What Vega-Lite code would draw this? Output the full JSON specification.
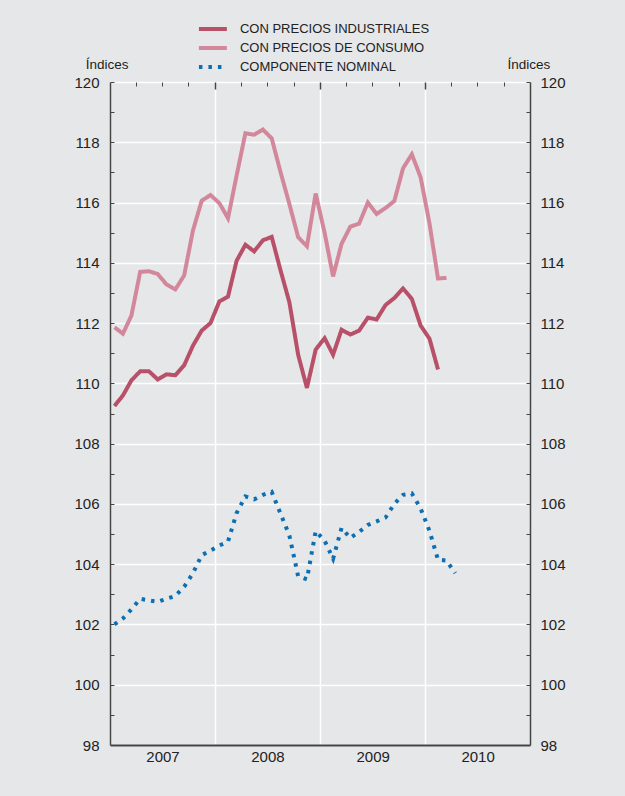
{
  "$schema": "https://vega.github.io/schema/vega-lite/v6.json",
  "width": 420,
  "height": 663,
  "autosize": {"type": "none"},
  "padding": {"left": 110, "top": 82, "right": 95, "bottom": 51},
  "background": "#e6e7e9",
  "config": {
    "view": {"stroke": null},
    "font": "Liberation Sans",
    "axis": {"labelFont": "Liberation Sans", "titleFont": "Liberation Sans", "labelColor": "#222222", "titleColor": "#222222", "domainColor": "#444444", "tickColor": "#444444", "gridColor": "#ffffff", "gridWidth": 1.5}
  },
  "datasets": {
    "d": [
      {"date": "2007-01", "serie": "CON PRECIOS INDUSTRIALES", "value": 109.25},
      {"date": "2007-02", "serie": "CON PRECIOS INDUSTRIALES", "value": 109.6},
      {"date": "2007-03", "serie": "CON PRECIOS INDUSTRIALES", "value": 110.1},
      {"date": "2007-04", "serie": "CON PRECIOS INDUSTRIALES", "value": 110.4},
      {"date": "2007-05", "serie": "CON PRECIOS INDUSTRIALES", "value": 110.4},
      {"date": "2007-06", "serie": "CON PRECIOS INDUSTRIALES", "value": 110.13},
      {"date": "2007-07", "serie": "CON PRECIOS INDUSTRIALES", "value": 110.3},
      {"date": "2007-08", "serie": "CON PRECIOS INDUSTRIALES", "value": 110.27},
      {"date": "2007-09", "serie": "CON PRECIOS INDUSTRIALES", "value": 110.6},
      {"date": "2007-10", "serie": "CON PRECIOS INDUSTRIALES", "value": 111.25},
      {"date": "2007-11", "serie": "CON PRECIOS INDUSTRIALES", "value": 111.75},
      {"date": "2007-12", "serie": "CON PRECIOS INDUSTRIALES", "value": 112.0},
      {"date": "2008-01", "serie": "CON PRECIOS INDUSTRIALES", "value": 112.72},
      {"date": "2008-02", "serie": "CON PRECIOS INDUSTRIALES", "value": 112.88},
      {"date": "2008-03", "serie": "CON PRECIOS INDUSTRIALES", "value": 114.07},
      {"date": "2008-04", "serie": "CON PRECIOS INDUSTRIALES", "value": 114.6},
      {"date": "2008-05", "serie": "CON PRECIOS INDUSTRIALES", "value": 114.38},
      {"date": "2008-06", "serie": "CON PRECIOS INDUSTRIALES", "value": 114.75},
      {"date": "2008-07", "serie": "CON PRECIOS INDUSTRIALES", "value": 114.86},
      {"date": "2008-08", "serie": "CON PRECIOS INDUSTRIALES", "value": 113.74},
      {"date": "2008-09", "serie": "CON PRECIOS INDUSTRIALES", "value": 112.69},
      {"date": "2008-10", "serie": "CON PRECIOS INDUSTRIALES", "value": 110.95},
      {"date": "2008-11", "serie": "CON PRECIOS INDUSTRIALES", "value": 109.85},
      {"date": "2008-12", "serie": "CON PRECIOS INDUSTRIALES", "value": 111.12},
      {"date": "2009-01", "serie": "CON PRECIOS INDUSTRIALES", "value": 111.5},
      {"date": "2009-02", "serie": "CON PRECIOS INDUSTRIALES", "value": 110.95},
      {"date": "2009-03", "serie": "CON PRECIOS INDUSTRIALES", "value": 111.78},
      {"date": "2009-04", "serie": "CON PRECIOS INDUSTRIALES", "value": 111.62},
      {"date": "2009-05", "serie": "CON PRECIOS INDUSTRIALES", "value": 111.75},
      {"date": "2009-06", "serie": "CON PRECIOS INDUSTRIALES", "value": 112.18},
      {"date": "2009-07", "serie": "CON PRECIOS INDUSTRIALES", "value": 112.12},
      {"date": "2009-08", "serie": "CON PRECIOS INDUSTRIALES", "value": 112.6},
      {"date": "2009-09", "serie": "CON PRECIOS INDUSTRIALES", "value": 112.83},
      {"date": "2009-10", "serie": "CON PRECIOS INDUSTRIALES", "value": 113.15},
      {"date": "2009-11", "serie": "CON PRECIOS INDUSTRIALES", "value": 112.8},
      {"date": "2009-12", "serie": "CON PRECIOS INDUSTRIALES", "value": 111.92},
      {"date": "2010-01", "serie": "CON PRECIOS INDUSTRIALES", "value": 111.48},
      {"date": "2010-02", "serie": "CON PRECIOS INDUSTRIALES", "value": 110.46},
      {"date": "2007-01", "serie": "CON PRECIOS DE CONSUMO", "value": 111.86},
      {"date": "2007-02", "serie": "CON PRECIOS DE CONSUMO", "value": 111.65},
      {"date": "2007-03", "serie": "CON PRECIOS DE CONSUMO", "value": 112.25},
      {"date": "2007-04", "serie": "CON PRECIOS DE CONSUMO", "value": 113.7},
      {"date": "2007-05", "serie": "CON PRECIOS DE CONSUMO", "value": 113.72},
      {"date": "2007-06", "serie": "CON PRECIOS DE CONSUMO", "value": 113.63},
      {"date": "2007-07", "serie": "CON PRECIOS DE CONSUMO", "value": 113.28},
      {"date": "2007-08", "serie": "CON PRECIOS DE CONSUMO", "value": 113.12},
      {"date": "2007-09", "serie": "CON PRECIOS DE CONSUMO", "value": 113.58},
      {"date": "2007-10", "serie": "CON PRECIOS DE CONSUMO", "value": 115.07},
      {"date": "2007-11", "serie": "CON PRECIOS DE CONSUMO", "value": 116.06},
      {"date": "2007-12", "serie": "CON PRECIOS DE CONSUMO", "value": 116.25},
      {"date": "2008-01", "serie": "CON PRECIOS DE CONSUMO", "value": 115.98},
      {"date": "2008-02", "serie": "CON PRECIOS DE CONSUMO", "value": 115.48},
      {"date": "2008-03", "serie": "CON PRECIOS DE CONSUMO", "value": 116.9},
      {"date": "2008-04", "serie": "CON PRECIOS DE CONSUMO", "value": 118.3},
      {"date": "2008-05", "serie": "CON PRECIOS DE CONSUMO", "value": 118.25},
      {"date": "2008-06", "serie": "CON PRECIOS DE CONSUMO", "value": 118.42},
      {"date": "2008-07", "serie": "CON PRECIOS DE CONSUMO", "value": 118.13},
      {"date": "2008-08", "serie": "CON PRECIOS DE CONSUMO", "value": 117.0},
      {"date": "2008-09", "serie": "CON PRECIOS DE CONSUMO", "value": 115.95},
      {"date": "2008-10", "serie": "CON PRECIOS DE CONSUMO", "value": 114.85},
      {"date": "2008-11", "serie": "CON PRECIOS DE CONSUMO", "value": 114.55},
      {"date": "2008-12", "serie": "CON PRECIOS DE CONSUMO", "value": 116.3},
      {"date": "2009-01", "serie": "CON PRECIOS DE CONSUMO", "value": 115.0},
      {"date": "2009-02", "serie": "CON PRECIOS DE CONSUMO", "value": 113.55},
      {"date": "2009-03", "serie": "CON PRECIOS DE CONSUMO", "value": 114.63},
      {"date": "2009-04", "serie": "CON PRECIOS DE CONSUMO", "value": 115.2},
      {"date": "2009-05", "serie": "CON PRECIOS DE CONSUMO", "value": 115.3},
      {"date": "2009-06", "serie": "CON PRECIOS DE CONSUMO", "value": 116.0},
      {"date": "2009-07", "serie": "CON PRECIOS DE CONSUMO", "value": 115.62},
      {"date": "2009-08", "serie": "CON PRECIOS DE CONSUMO", "value": 115.82},
      {"date": "2009-09", "serie": "CON PRECIOS DE CONSUMO", "value": 116.05},
      {"date": "2009-10", "serie": "CON PRECIOS DE CONSUMO", "value": 117.14},
      {"date": "2009-11", "serie": "CON PRECIOS DE CONSUMO", "value": 117.6},
      {"date": "2009-12", "serie": "CON PRECIOS DE CONSUMO", "value": 116.84},
      {"date": "2010-01", "serie": "CON PRECIOS DE CONSUMO", "value": 115.3},
      {"date": "2010-02", "serie": "CON PRECIOS DE CONSUMO", "value": 113.48},
      {"date": "2010-03", "serie": "CON PRECIOS DE CONSUMO", "value": 113.5},
      {"date": "2007-01", "serie": "COMPONENTE NOMINAL", "value": 102.0},
      {"date": "2007-02", "serie": "COMPONENTE NOMINAL", "value": 102.2},
      {"date": "2007-03", "serie": "COMPONENTE NOMINAL", "value": 102.5},
      {"date": "2007-04", "serie": "COMPONENTE NOMINAL", "value": 102.85},
      {"date": "2007-05", "serie": "COMPONENTE NOMINAL", "value": 102.8},
      {"date": "2007-06", "serie": "COMPONENTE NOMINAL", "value": 102.75},
      {"date": "2007-07", "serie": "COMPONENTE NOMINAL", "value": 102.85},
      {"date": "2007-08", "serie": "COMPONENTE NOMINAL", "value": 102.95},
      {"date": "2007-09", "serie": "COMPONENTE NOMINAL", "value": 103.25},
      {"date": "2007-10", "serie": "COMPONENTE NOMINAL", "value": 103.7},
      {"date": "2007-11", "serie": "COMPONENTE NOMINAL", "value": 104.3},
      {"date": "2007-12", "serie": "COMPONENTE NOMINAL", "value": 104.45},
      {"date": "2008-01", "serie": "COMPONENTE NOMINAL", "value": 104.62},
      {"date": "2008-02", "serie": "COMPONENTE NOMINAL", "value": 104.75},
      {"date": "2008-03", "serie": "COMPONENTE NOMINAL", "value": 105.7},
      {"date": "2008-04", "serie": "COMPONENTE NOMINAL", "value": 106.25},
      {"date": "2008-05", "serie": "COMPONENTE NOMINAL", "value": 106.15},
      {"date": "2008-06", "serie": "COMPONENTE NOMINAL", "value": 106.3},
      {"date": "2008-07", "serie": "COMPONENTE NOMINAL", "value": 106.4},
      {"date": "2008-08", "serie": "COMPONENTE NOMINAL", "value": 105.67},
      {"date": "2008-09", "serie": "COMPONENTE NOMINAL", "value": 104.95},
      {"date": "2008-10", "serie": "COMPONENTE NOMINAL", "value": 103.6},
      {"date": "2008-11", "serie": "COMPONENTE NOMINAL", "value": 103.5},
      {"date": "2008-12", "serie": "COMPONENTE NOMINAL", "value": 105.1},
      {"date": "2009-01", "serie": "COMPONENTE NOMINAL", "value": 104.78},
      {"date": "2009-02", "serie": "COMPONENTE NOMINAL", "value": 104.18},
      {"date": "2009-03", "serie": "COMPONENTE NOMINAL", "value": 105.2},
      {"date": "2009-04", "serie": "COMPONENTE NOMINAL", "value": 104.87},
      {"date": "2009-05", "serie": "COMPONENTE NOMINAL", "value": 105.07},
      {"date": "2009-06", "serie": "COMPONENTE NOMINAL", "value": 105.3},
      {"date": "2009-07", "serie": "COMPONENTE NOMINAL", "value": 105.42},
      {"date": "2009-08", "serie": "COMPONENTE NOMINAL", "value": 105.55},
      {"date": "2009-09", "serie": "COMPONENTE NOMINAL", "value": 106.0},
      {"date": "2009-10", "serie": "COMPONENTE NOMINAL", "value": 106.3},
      {"date": "2009-11", "serie": "COMPONENTE NOMINAL", "value": 106.35},
      {"date": "2009-12", "serie": "COMPONENTE NOMINAL", "value": 105.85},
      {"date": "2010-01", "serie": "COMPONENTE NOMINAL", "value": 105.1},
      {"date": "2010-02", "serie": "COMPONENTE NOMINAL", "value": 104.15},
      {"date": "2010-03", "serie": "COMPONENTE NOMINAL", "value": 104.12},
      {"date": "2010-04", "serie": "COMPONENTE NOMINAL", "value": 103.7}
    ]
  },
  "data": {"name": "d"},
  "layer": [
    {
      "mark": {"type": "line", "strokeWidth": 4, "strokeCap": "butt", "strokeJoin": "miter"},
      "encoding": {
        "x": {"field": "date", "timeUnit": "utcyearmonth", "type": "temporal", "bandPosition": 0.5,
          "scale": {"domain": [{"year": 2007, "month": 1, "date": 1, "utc": true}, {"year": 2011, "month": 1, "date": 1, "utc": true}]},
          "axis": {"title": null, "values": [{"year": 2007, "month": 1, "date": 1, "utc": true}, {"year": 2008, "month": 1, "date": 1, "utc": true}, {"year": 2009, "month": 1, "date": 1, "utc": true}, {"year": 2010, "month": 1, "date": 1, "utc": true}],
            "labelExpr": "utcFormat(datum.value, '%Y')", "labelOffset": 52.5, "labelFlush": false, "labelOverlap": false, "labelFontSize": 15, "labelPadding": 4,
            "ticks": false, "grid": true, "domain": true, "domainWidth": 2, "domainColor": "#444444"}},
        "y": {"field": "value", "type": "quantitative", "scale": {"domain": [98, 120], "zero": false, "nice": false},
          "axis": {"orient": "left", "values": [98, 100, 102, 104, 106, 108, 110, 112, 114, 116, 118, 120], "grid": true, "ticks": false, "domain": true, "domainWidth": 1.5,
            "labelFontSize": 15, "labelPadding": 11,
            "title": "Índices", "titleAngle": 0, "titleX": 18, "titleY": -14, "titleAlign": "right", "titleBaseline": "alphabetic", "titleFontSize": 13.5, "titleFontWeight": "normal"}},
        "color": {"field": "serie", "type": "nominal",
          "scale": {"domain": ["CON PRECIOS INDUSTRIALES", "CON PRECIOS DE CONSUMO", "COMPONENTE NOMINAL"], "range": ["#b9506a", "#d2879b", "#0b6fb4"]},
          "legend": {"title": null, "orient": "none", "legendX": 92.4, "legendY": -63.5, "padding": 0, "symbolType": "M-1.7,0H1.7", "symbolSize": 270, "symbolStrokeWidth": 4, "labelFontSize": 13, "labelFont": "Liberation Sans", "labelColor": "#222222", "labelOffset": 16.5, "rowPadding": 0, "labelLimit": 400}},
        "strokeDash": {"field": "serie", "type": "nominal",
          "scale": {"domain": ["CON PRECIOS INDUSTRIALES", "CON PRECIOS DE CONSUMO", "COMPONENTE NOMINAL"], "range": [[1, 0], [1, 0], [3.5, 6]]},
          "legend": {"title": null, "orient": "none", "legendX": 92.4, "legendY": -63.5, "padding": 0, "symbolType": "M-1.7,0H1.7", "symbolSize": 270, "symbolStrokeWidth": 4, "labelFontSize": 13, "labelFont": "Liberation Sans", "labelColor": "#222222", "labelOffset": 16.5, "rowPadding": 0, "labelLimit": 400}}
      }
    },
    {
      "mark": {"type": "line", "opacity": 0},
      "encoding": {
        "x": {"field": "date", "timeUnit": "utcyearmonth", "type": "temporal", "bandPosition": 0.5,
          "axis": {"title": null, "values": [{"year": 2007, "month": 4, "date": 1, "utc": true}, {"year": 2007, "month": 7, "date": 1, "utc": true}, {"year": 2007, "month": 10, "date": 1, "utc": true}, {"year": 2008, "month": 4, "date": 1, "utc": true}, {"year": 2008, "month": 7, "date": 1, "utc": true}, {"year": 2008, "month": 10, "date": 1, "utc": true}, {"year": 2009, "month": 4, "date": 1, "utc": true}, {"year": 2009, "month": 7, "date": 1, "utc": true}, {"year": 2009, "month": 10, "date": 1, "utc": true}, {"year": 2010, "month": 4, "date": 1, "utc": true}, {"year": 2010, "month": 7, "date": 1, "utc": true}, {"year": 2010, "month": 10, "date": 1, "utc": true}],
            "labels": false, "grid": false, "domain": false, "ticks": true, "tickSize": -4, "tickWidth": 1}},
        "y": {"field": "value", "type": "quantitative",
          "axis": {"orient": "right", "values": [98, 100, 102, 104, 106, 108, 110, 112, 114, 116, 118, 120], "grid": false, "ticks": false, "domain": true, "domainWidth": 1.5,
            "labelFontSize": 15, "labelPadding": 10,
            "title": "Índices", "titleAngle": 0, "titleX": -23, "titleY": -14, "titleAlign": "left", "titleBaseline": "alphabetic", "titleFontSize": 13.5, "titleFontWeight": "normal"}}
      }
    },
    {
      "mark": {"type": "line", "opacity": 0},
      "encoding": {
        "x": {"field": "date", "timeUnit": "utcyearmonth", "type": "temporal", "bandPosition": 0.5,
          "axis": {"title": null, "values": [{"year": 2008, "month": 1, "date": 1, "utc": true}, {"year": 2009, "month": 1, "date": 1, "utc": true}, {"year": 2010, "month": 1, "date": 1, "utc": true}],
            "labels": false, "grid": false, "domain": false, "ticks": true, "tickSize": -7, "tickWidth": 1.5}},
        "y": {"field": "value", "type": "quantitative",
          "axis": {"orient": "left", "values": [99, 101, 103, 105, 107, 109, 111, 113, 115, 117, 119, 120, 118, 116, 114, 112, 110, 108, 106, 104, 102, 100], "labels": false, "grid": false, "domain": false, "ticks": true, "tickSize": -4, "tickWidth": 1, "title": null}}
      }
    },
    {
      "mark": {"type": "line", "opacity": 0},
      "encoding": {
        "x": {"field": "date", "timeUnit": "utcyearmonth", "type": "temporal", "bandPosition": 0.5, "axis": null},
        "y": {"field": "value", "type": "quantitative",
          "axis": {"orient": "right", "values": [99, 101, 103, 105, 107, 109, 111, 113, 115, 117, 119, 120, 118, 116, 114, 112, 110, 108, 106, 104, 102, 100], "labels": false, "grid": false, "domain": false, "ticks": true, "tickSize": -4, "tickWidth": 1, "title": null}}
      }
    }
  ],
  "resolve": {"axis": {"x": "independent", "y": "independent"}}
}
